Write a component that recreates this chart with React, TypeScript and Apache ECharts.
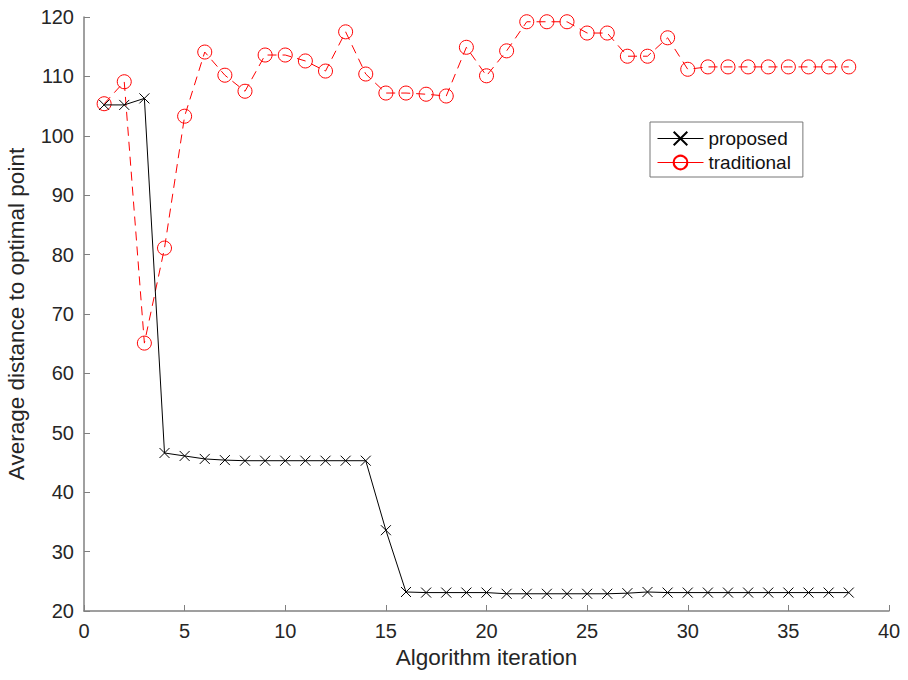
import React, { useEffect, useRef } from "react";
import * as echarts from "echarts";

const iterations = Array.from({ length: 38 }, (_, i) => i + 1);

const proposed = [
  105.2, 105.2, 106.3, 46.6, 46.1, 45.6, 45.4, 45.3, 45.3, 45.3,
  45.3, 45.3, 45.3, 45.3, 33.6, 23.2, 23.1, 23.1, 23.1, 23.1,
  22.9, 22.9, 22.9, 22.9, 22.9, 22.9, 23.0, 23.2, 23.1, 23.1,
  23.1, 23.1, 23.1, 23.1, 23.1, 23.1, 23.1, 23.1,
];

const traditional = [
  105.4, 109.1, 65.1, 81.1, 103.3, 114.1, 110.2, 107.5, 113.6, 113.6,
  112.6, 110.9, 117.5, 110.4, 107.2, 107.2, 107.0, 106.7, 114.9, 110.1,
  114.3, 119.2, 119.2, 119.2, 117.3, 117.3, 113.4, 113.4, 116.5, 111.2,
  111.6, 111.6, 111.6, 111.6, 111.6, 111.6, 111.6, 111.6,
];

const seriesNames = ["proposed", "traditional"];

const FONT = "Liberation Sans, Arial, sans-serif";

export default function App() {
  const ref = useRef<HTMLDivElement>(null);
  useEffect(() => {
    document.body.style.margin = "0";
    const chart = echarts.init(ref.current!, undefined, { renderer: "svg" });
    chart.setOption({
      animation: false,
      backgroundColor: "#fff",
      textStyle: { fontFamily: FONT },
      grid: {
        left: 84,
        right: 19,
        top: 17,
        bottom: 69,
        containLabel: false,
        outerBoundsMode: "none",
      },
      legend: {
        orient: "vertical",
        left: 650,
        top: 122,
        padding: [7, 12, 5, 7],
        itemGap: 5,
        itemWidth: 46,
        itemHeight: 17,
        borderColor: "#777",
        borderWidth: 1,
        backgroundColor: "#fff",
        textStyle: { fontSize: 19, color: "#111", fontFamily: FONT },
        data: [
          { name: seriesNames[0], lineStyle: { width: 1, type: "solid" } },
          { name: seriesNames[1], lineStyle: { width: 1, type: "solid" } },
        ],
      },
      xAxis: {
        type: "value",
        min: 0,
        max: 40,
        interval: 5,
        name: "Algorithm iteration",
        nameLocation: "middle",
        nameGap: 31,
        nameTextStyle: { fontSize: 22.5, color: "#262626", fontFamily: FONT },
        axisLine: { show: true, lineStyle: { color: "#808080", width: 1.5 } },
        axisTick: { show: true, inside: true, length: 6, lineStyle: { color: "#808080" } },
        axisLabel: { fontSize: 20, color: "#262626", margin: 10, fontFamily: FONT },
        splitLine: { show: false },
      },
      yAxis: {
        type: "value",
        min: 20,
        max: 120,
        interval: 10,
        name: "Average distance to optimal point",
        nameLocation: "middle",
        nameGap: 56,
        nameTextStyle: { fontSize: 22.5, color: "#262626", fontFamily: FONT },
        axisLine: { show: true, lineStyle: { color: "#808080", width: 1.5 } },
        axisTick: { show: true, inside: true, length: 6, lineStyle: { color: "#808080" } },
        axisLabel: { fontSize: 20, color: "#262626", margin: 10, fontFamily: FONT },
        splitLine: { show: false },
      },
      series: [
        {
          name: "proposed",
          type: "line",
          data: iterations.map((x, i) => [x, proposed[i]]),
          symbol: "path://M0,0L10,10M10,0L0,10",
          symbolSize: 10,
          lineStyle: { color: "#000", width: 1 },
          itemStyle: { color: "none", borderColor: "#000", borderWidth: 1 },
          z: 3,
        },
        {
          name: "traditional",
          type: "line",
          data: iterations.map((x, i) => [x, traditional[i]]),
          symbol: "circle",
          symbolSize: 14,
          lineStyle: { color: "#ff0000", width: 1, type: [9, 6] },
          itemStyle: { color: "none", borderColor: "#ff0000", borderWidth: 1 },
          z: 2,
        },
      ],
    });
    return () => chart.dispose();
  }, []);
  return <div ref={ref} style={{ width: 908, height: 680 }} />;
}
